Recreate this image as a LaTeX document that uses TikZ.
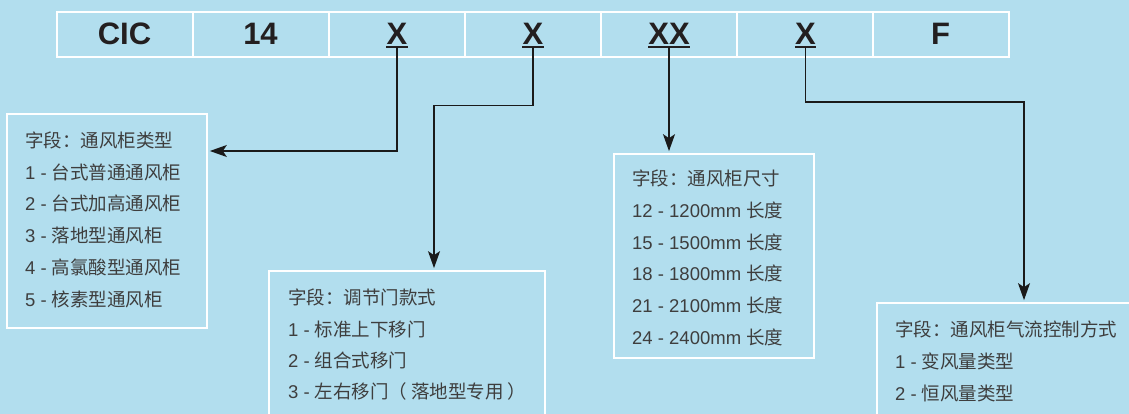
\documentclass[tikz,border=0pt]{standalone}
\usepackage{fontspec}
\setmainfont{Liberation Sans}
\newfontfamily\cjk{Noto Sans CJK SC}
\usetikzlibrary{arrows.meta}
\definecolor{bgblue}{HTML}{B2DEEE}
\definecolor{toptext}{HTML}{231F20}
\definecolor{bodytext}{HTML}{3E3E3E}
\definecolor{linecol}{HTML}{1A1A1A}
\newcommand{\zh}[1]{{\cjk #1}}
\tikzset{
  cellbox/.style={draw=white, line width=2pt, minimum width=136pt, minimum height=45pt, inner sep=0pt},
  codetext/.style={font=\fontsize{31}{31}\selectfont\bfseries, text=toptext, inner sep=0pt, anchor=base},
  uline/.style={draw=toptext, line width=1.5pt},
  infobox/.style={draw=white, line width=2.7pt, inner sep=0pt},
  itemtext/.style={font=\fontsize{18.5}{20}\selectfont, text=bodytext, inner sep=0pt, anchor=base west},
  conn/.style={draw=linecol, line width=1.5pt, line join=miter, -{Stealth[length=17pt,width=12pt,inset=4pt]}}
}
\begin{document}
\begin{tikzpicture}[x=1pt, y=-1pt]
\useasboundingbox (0,0) rectangle (1129,414);
\clip (0,0) rectangle (1129,414);
\fill[bgblue] (0,0) rectangle (1129,414);

% top row cells
\node[cellbox] (c1) at (124.5,34.5) {};
\node[cellbox] (c2) at (260.5,34.5) {};
\node[cellbox] (c3) at (396.5,34.5) {};
\node[cellbox] (c4) at (532.5,34.5) {};
\node[cellbox] (c5) at (668.5,34.5) {};
\node[cellbox] (c6) at (804.5,34.5) {};
\node[cellbox] (c7) at (940.5,34.5) {};

\node[codetext] (t1) at (124.5,44.3) {CIC};
\node[codetext] (t2) at (260.5,44.3) {14};
\node[codetext] (t3) at (397,44.3) {X};
\node[codetext] (t4) at (533,44.3) {X};
\node[codetext] (t5) at (669,44.3) {XX};
\node[codetext] (t6) at (805.5,44.3) {X};
\node[codetext] (t7) at (940.5,44.3) {F};

\foreach \t in {t3,t4,t5,t6}{
  \draw[uline] ([yshift=-2.5pt]\t.south west) -- ([yshift=-2.5pt]\t.south east);
}

% info boxes
\node[infobox, minimum width=200pt, minimum height=214pt] (b1) at (107,221) {};
\node[infobox, minimum width=276pt, minimum height=169pt] (b2) at (407,355.5) {};
\node[infobox, minimum width=200pt, minimum height=204pt] (b3) at (714,256) {};
\node[infobox, minimum width=273pt, minimum height=137pt] (b4) at (1013.5,371.5) {};

% box 1 text
\node[itemtext] (l11) at (25,147.5) {\zh{字段：通风柜类型}};
\node[itemtext] (l12) at (25,179.2) {1 - \zh{台式普通通风柜}};
\node[itemtext] (l13) at (25,210.9) {2 - \zh{台式加高通风柜}};
\node[itemtext] (l14) at (25,242.6) {3 - \zh{落地型通风柜}};
\node[itemtext] (l15) at (25,274.3) {4 - \zh{高氯酸型通风柜}};
\node[itemtext] (l16) at (25,306) {5 - \zh{核素型通风柜}};

% box 2 text
\node[itemtext] (l21) at (288,304.7) {\zh{字段：调节门款式}};
\node[itemtext] (l22) at (288,336) {1 - \zh{标准上下移门}};
\node[itemtext] (l23) at (288,367) {2 - \zh{组合式移门}};
\node[itemtext] (l24) at (288,398) {3 - \zh{左右移门（\hspace{4pt}落地型专用\hspace{4pt}）}};

% box 3 text
\node[itemtext] (l31) at (632,185.6) {\zh{字段：通风柜尺寸}};
\node[itemtext] (l32) at (632,217.3) {12 - 1200mm \zh{长度}};
\node[itemtext] (l33) at (632,249) {15 - 1500mm \zh{长度}};
\node[itemtext] (l34) at (632,280.7) {18 - 1800mm \zh{长度}};
\node[itemtext] (l35) at (632,312.4) {21 - 2100mm \zh{长度}};
\node[itemtext] (l36) at (632,344) {24 - 2400mm \zh{长度}};

% box 4 text
\node[itemtext] (l41) at (895,336.6) {\zh{字段：通风柜气流控制方式}};
\node[itemtext] (l42) at (895,368.3) {1 - \zh{变风量类型}};
\node[itemtext] (l43) at (895,400) {2 - \zh{恒风量类型}};

% connectors
\coordinate (k1) at (397,151);
\coordinate (k2) at (434,105.7);
\coordinate (k4) at (1024,102);
\draw[conn] ([yshift=-2.5pt]t3.south) -- (k1) -- ([xshift=1.5pt]b1.east |- k1);
\draw[conn] ([yshift=-2.5pt]t4.south) |- (k2) -- ([yshift=1.5pt]b2.north -| k2);
\draw[conn] ([yshift=-2.5pt]t5.south) -- ([yshift=1.5pt]b3.north -| t5.south);
\draw[conn] ([yshift=-2.5pt]t6.south) |- (k4) -- ([yshift=1.5pt]b4.north -| k4);
\end{tikzpicture}
\end{document}
